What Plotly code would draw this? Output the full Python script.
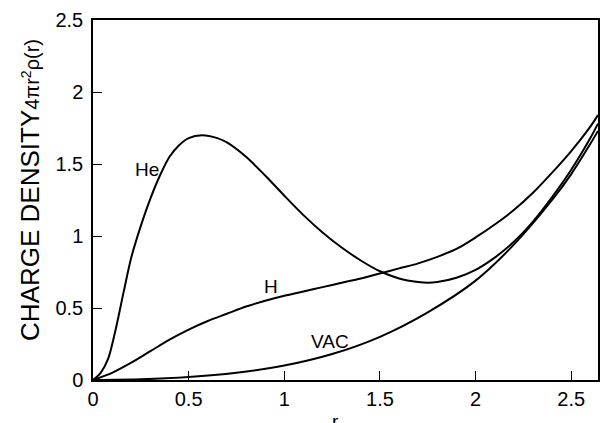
import plotly.graph_objects as go

# He curve
r_he = [0, 0.04, 0.08, 0.12, 0.16, 0.2, 0.25, 0.3, 0.35, 0.4, 0.45, 0.5, 0.57, 0.65, 0.7, 0.8, 0.9,
        1.0, 1.1, 1.2, 1.3, 1.4, 1.5, 1.6, 1.7, 1.75, 1.8, 1.9, 2.0, 2.1, 2.2, 2.3, 2.4, 2.5, 2.6, 2.64]
y_he = [0, 0.05, 0.15, 0.36, 0.61, 0.85, 1.07, 1.26, 1.42, 1.55, 1.63, 1.68, 1.70, 1.68, 1.65, 1.55, 1.42,
        1.28, 1.145, 1.025, 0.92, 0.83, 0.755, 0.705, 0.68, 0.675, 0.68, 0.71, 0.765, 0.85, 0.96, 1.10, 1.27, 1.46, 1.68, 1.78]

# H curve
r_h = [0, 0.1, 0.2, 0.3, 0.4, 0.5, 0.6, 0.7, 0.8, 0.9, 1.0, 1.1, 1.2, 1.3, 1.4, 1.5,
       1.6, 1.7, 1.8, 1.9, 2.0, 2.1, 2.2, 2.3, 2.4, 2.5, 2.6, 2.64]
y_h = [0, 0.05, 0.12, 0.20, 0.28, 0.35, 0.41, 0.46, 0.51, 0.55, 0.585, 0.615, 0.645, 0.675, 0.705, 0.74,
       0.775, 0.81, 0.855, 0.91, 0.99, 1.08, 1.18, 1.30, 1.44, 1.59, 1.76, 1.84]

# VAC curve
r_vac = [0, 0.25, 0.5, 0.75, 1.0, 1.25, 1.5, 1.75, 2.0, 2.2, 2.4, 2.5, 2.6, 2.64]
y_vac = [0, 0.005, 0.02, 0.05, 0.10, 0.18, 0.30, 0.47, 0.69, 0.94, 1.25, 1.43, 1.64, 1.73]

# curve labels
label_text = ["He", "H", "VAC"]
label_r = [0.28, 0.93, 1.24]
label_y = [1.46, 0.65, 0.27]

x_ticks = [0, 0.5, 1, 1.5, 2, 2.5]
y_ticks = [0, 0.5, 1, 1.5, 2, 2.5]

FONT = "Liberation Sans"

fig = go.Figure()
for xs, ys in [(r_he, y_he), (r_h, y_h), (r_vac, y_vac)]:
    fig.add_trace(go.Scatter(x=xs, y=ys, mode="lines",
                             line=dict(color="black", width=2, shape="spline", smoothing=0.8),
                             showlegend=False, hoverinfo="skip"))

for t, xr, yr in zip(label_text, label_r, label_y):
    fig.add_annotation(x=xr, y=yr, text=t, showarrow=False, font=dict(family=FONT, size=19, color="black"),
                       xanchor="center", yanchor="middle")

fig.add_annotation(xref="paper", yref="paper", x=0, y=0.528, xshift=-63, textangle=-90,
                   text="CHARGE DENSITY<span style='font-size:20px'>4πr<sup>2</sup>ρ(r)</span>",
                   showarrow=False, xanchor="center", yanchor="middle",
                   font=dict(family=FONT, size=26, color="black"))
fig.add_annotation(xref="paper", yref="paper", x=0, y=0, xshift=242, yshift=-29, text="r",
                   showarrow=False, xanchor="center", yanchor="top",
                   font=dict(family=FONT, size=19, color="black"))

axis_common = dict(showgrid=False, zeroline=False, showline=True, linecolor="black", linewidth=1.5,
                   mirror=True, ticks="inside", ticklen=9, tickwidth=1.2, tickcolor="black",
                   tickfont=dict(family=FONT, size=20, color="black"))
fig.update_xaxes(range=[0, 2.64], tickvals=x_ticks, **axis_common)
fig.update_yaxes(range=[0, 2.5], tickvals=y_ticks, ticklabelstandoff=4, **axis_common)

fig.update_layout(width=604, height=423, margin=dict(l=93, r=4, t=20, b=43),
                  plot_bgcolor="white", paper_bgcolor="white")

fig.write_html("out.html")
